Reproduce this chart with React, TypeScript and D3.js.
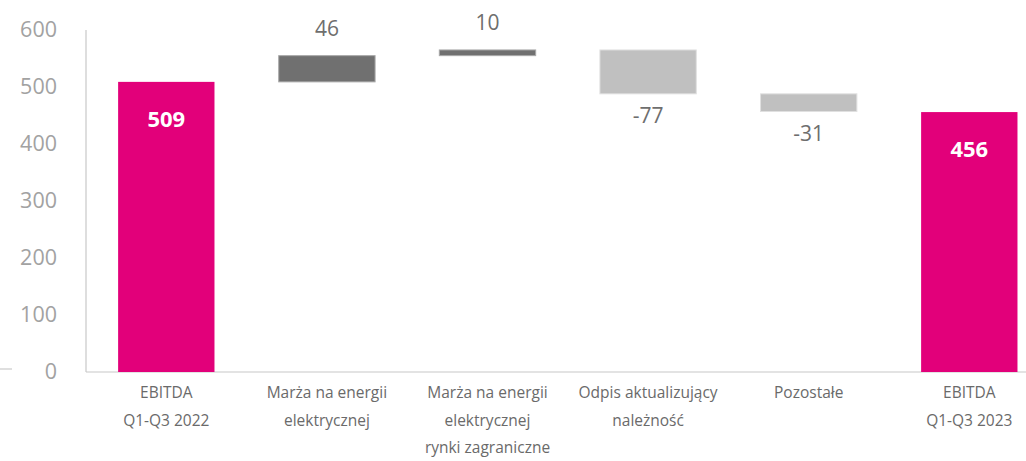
import React from "react";
import * as d3 from "d3";

const categories: string[][] = [
  ["EBITDA", "Q1-Q3 2022"],
  ["Marża na energii", "elektrycznej"],
  ["Marża na energii", "elektrycznej", "rynki zagraniczne"],
  ["Odpis aktualizujący", "należność"],
  ["Pozostałe"],
  ["EBITDA", "Q1-Q3 2023"],
];
const values: number[] = [509, 46, 10, -77, -31, 456];
const kinds: string[] = ["total", "delta", "delta", "delta", "delta", "total"];
const labels: string[] = ["509", "46", "10", "-77", "-31", "456"];
const yTicks: number[] = [0, 100, 200, 300, 400, 500, 600];

const W = 1026;
const H = 461;

export default function App() {
  const y = d3.scaleLinear().domain([0, 600]).range([372, 30]);
  const x = d3
    .scaleBand<number>()
    .domain(values.map((_, i) => i))
    .range([86, 1049.6])
    .paddingInner(0.4)
    .paddingOuter(0.2);

  let run = 0;
  const bars = values.map((v, i) => {
    let lo: number, hi: number;
    if (kinds[i] === "total") {
      lo = 0;
      hi = v;
      run = v;
    } else {
      const start = run;
      run = run + v;
      lo = Math.min(start, run);
      hi = Math.max(start, run);
    }
    return { i, v, lo, hi };
  });

  const fillFor = (i: number, v: number) =>
    kinds[i] === "total" ? "#E2007A" : v >= 0 ? "#707070" : "#C0C0C0";
  const strokeFor = (i: number, v: number) =>
    kinds[i] === "total" ? "none" : v >= 0 ? "#a8a8a8" : "#e0e0e0";

  return (
    <svg
      width={W}
      height={H}
      style={{ position: "absolute", left: 0, top: 0 }}
      fontFamily="'Open Sans', sans-serif"
    >
      {/* left stub */}
      <line x1={0} x2={12} y1={369} y2={369} stroke="#bfbfbf" strokeWidth={1} />
      {/* y axis */}
      <line x1={86} x2={86} y1={y(600)} y2={y(0)} stroke="#c8c8c8" strokeWidth={1.2} />
      <line x1={86} x2={W} y1={y(0)} y2={y(0)} stroke="#c8c8c8" strokeWidth={1.2} />
      {yTicks.map((t) => (
        <text
          key={t}
          x={57}
          y={y(t) - 2}
          textAnchor="end"
          dominantBaseline="central"
          fontSize={21.5}
          fill="#a2a2a2"
        >
          {t}
        </text>
      ))}
      {bars.map((b) => {
        const bx = x(b.i)!;
        const bw = x.bandwidth();
        const top = y(b.hi);
        const bot = y(b.lo);
        return (
          <g key={b.i}>
            <rect
              x={bx}
              y={top}
              width={bw}
              height={Math.max(bot - top, 1)}
              fill={fillFor(b.i, b.v)}
              stroke={strokeFor(b.i, b.v)}
              strokeWidth={1}
            />
            {kinds[b.i] === "total" ? (
              <text
                x={bx + bw / 2}
                y={top + 36}
                textAnchor="middle"
                dominantBaseline="central"
                fontSize={22}
                fontWeight="bold"
                fill="#ffffff"
              >
                {labels[b.i]}
              </text>
            ) : b.v >= 0 ? (
              <text
                x={bx + bw / 2}
                y={top - 28}
                textAnchor="middle"
                dominantBaseline="central"
                fontSize={21}
                fill="#6e6e6e"
              >
                {labels[b.i]}
              </text>
            ) : (
              <text
                x={bx + bw / 2}
                y={bot + 21}
                textAnchor="middle"
                dominantBaseline="central"
                fontSize={21}
                fill="#6e6e6e"
              >
                {labels[b.i]}
              </text>
            )}
            {categories[b.i].map((line, k) => (
              <text
                key={k}
                x={bx + bw / 2}
                y={392 + k * 27.5}
                textAnchor="middle"
                dominantBaseline="central"
                fontSize={15.5}
                fill="#6a6a6a"
              >
                {line}
              </text>
            ))}
          </g>
        );
      })}
    </svg>
  );
}
